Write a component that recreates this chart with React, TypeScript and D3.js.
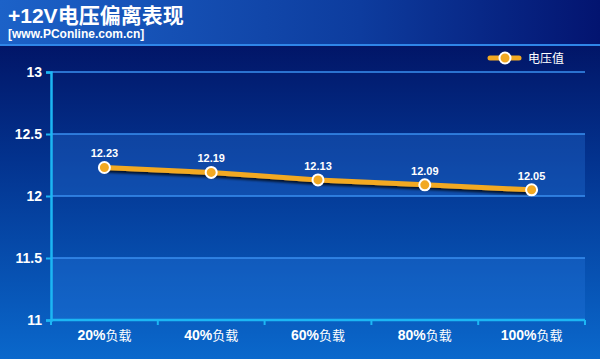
import React, { useEffect, useRef } from 'react';
import * as d3 from 'd3';

const categories = ['20%负载', '40%负载', '60%负载', '80%负载', '100%负载'];
const voltages = [12.23, 12.19, 12.13, 12.09, 12.05];
const yTicks = [11, 11.5, 12, 12.5, 13];
const seriesName = '电压值';
const title = '+12V电压偏离表现';
const subtitle = '[www.PConline.com.cn]';

const App: React.FC = () => {
  const svgRef = useRef<SVGSVGElement | null>(null);

  useEffect(() => {
    if (!svgRef.current) return;
    const width = 600;
    const height = 359;
    const left = 51;
    const right = 585;
    const top = 72;
    const bottom = 320;

    const svg = d3.select(svgRef.current);
    svg.selectAll('*').remove();
    svg.attr('width', width).attr('height', height);

    const defs = svg.append('defs');
    const bg = defs.append('linearGradient').attr('id', 'bg').attr('x1', 0).attr('y1', 0).attr('x2', 0).attr('y2', 1);
    bg.append('stop').attr('offset', '0%').attr('stop-color', '#010a58');
    bg.append('stop').attr('offset', '45%').attr('stop-color', '#03338f');
    bg.append('stop').attr('offset', '100%').attr('stop-color', '#0a68cc');

    const hdr = defs.append('linearGradient').attr('id', 'hdr').attr('x1', 0).attr('y1', 0).attr('x2', 1).attr('y2', 0);
    hdr.append('stop').attr('offset', '0%').attr('stop-color', '#1c62c8');
    hdr.append('stop').attr('offset', '60%').attr('stop-color', '#0d3c9e');
    hdr.append('stop').attr('offset', '100%').attr('stop-color', '#031470');

    const shadow = defs.append('filter').attr('id', 'shadow').attr('x', '-10%').attr('y', '-50%').attr('width', '120%').attr('height', '200%');
    shadow.append('feDropShadow').attr('dx', 1).attr('dy', 2.5).attr('stdDeviation', 1).attr('flood-color', '#000').attr('flood-opacity', 0.75);

    // background
    svg.append('rect').attr('width', width).attr('height', height).attr('fill', 'url(#bg)');
    svg.append('rect').attr('width', width).attr('height', 45).attr('fill', 'url(#hdr)');
    svg.append('rect').attr('y', 44).attr('width', width).attr('height', 2).attr('fill', '#2f86e8');

    svg.append('text').attr('x', 8).attr('y', 23).text(title)
      .attr('fill', '#fff').attr('font-family', 'Arial, "Noto Sans CJK SC", sans-serif')
      .attr('font-weight', 'bold').attr('font-size', 21);
    svg.append('text').attr('x', 8).attr('y', 38).text(subtitle)
      .attr('fill', '#fff').attr('font-family', 'Arial, sans-serif')
      .attr('font-weight', 'bold').attr('font-size', 12);

    const y = d3.scaleLinear().domain([11, 13]).range([bottom, top]);
    const xBand = d3.scaleBand<string>().domain(categories).range([left, right]);
    const x = (c: string) => (xBand(c) as number) + xBand.bandwidth() / 2;

    // alternating bands
    const bands = [[12, 12.5], [11, 11.5]];
    svg.append('g').selectAll('rect').data(bands).enter().append('rect')
      .attr('x', left).attr('width', right - left)
      .attr('y', (d) => y(d[1])).attr('height', (d) => y(d[0]) - y(d[1]))
      .attr('fill', '#2a7ae0').attr('fill-opacity', 0.3);

    // gridlines
    svg.append('g').selectAll('line').data(yTicks.filter((t) => t > 11)).enter().append('line')
      .attr('x1', left).attr('x2', right)
      .attr('y1', (d) => y(d)).attr('y2', (d) => y(d))
      .attr('stroke', '#3a8ff0').attr('stroke-width', 1.5);

    // y axis
    const yAxis = svg.append('g').attr('transform', `translate(${left},0)`)
      .call(d3.axisLeft(y).tickValues(yTicks).tickSize(5).tickPadding(4).tickFormat((d) => String(d)));
    yAxis.select('.domain').attr('stroke', '#1cb6f4').attr('stroke-width', 2.5);
    yAxis.selectAll('.tick line').attr('stroke', '#1cb6f4').attr('stroke-width', 2);
    yAxis.selectAll('.tick text').attr('fill', '#fff').attr('font-family', 'Arial, sans-serif')
      .attr('font-weight', 'bold').attr('font-size', 14);

    // x axis
    const xAxis = svg.append('g').attr('transform', `translate(0,${bottom})`)
      .call(d3.axisBottom(xBand).tickSize(0).tickPadding(10));
    xAxis.select('.domain').remove();
    xAxis.append('line').attr('x1', left).attr('x2', right).attr('stroke', '#1cb6f4').attr('stroke-width', 2.5);
    xAxis.selectAll('line.sep').data([...categories.map((c) => xBand(c) as number), right]).enter()
      .append('line').attr('class', 'sep')
      .attr('x1', (d) => d).attr('x2', (d) => d).attr('y1', 0).attr('y2', 5)
      .attr('stroke', '#1cb6f4').attr('stroke-width', 2);
    const xt = xAxis.selectAll('.tick text').text('').attr('fill', '#fff')
      .attr('font-family', 'Arial, "Noto Sans CJK SC", sans-serif').attr('font-size', 14);
    xt.each(function (d: any) {
      const m = /^(\d+%)(.*)$/.exec(d as string);
      const t = d3.select(this);
      if (!m) { t.text(d); return; }
      t.append('tspan').attr('font-weight', 'bold').text(m[1]);
      t.append('tspan').attr('font-size', 13).text(m[2]);
    });

    // series line
    const line = d3.line<number>().x((_, i) => x(categories[i])).y((d) => y(d));
    svg.append('path').datum(voltages).attr('d', line)
      .attr('fill', 'none').attr('stroke', '#f2a922').attr('stroke-width', 5)
      .attr('filter', 'url(#shadow)');

    svg.append('g').selectAll('circle').data(voltages).enter().append('circle')
      .attr('cx', (_, i) => x(categories[i])).attr('cy', (d) => y(d)).attr('r', 5.5)
      .attr('fill', '#f2a922').attr('stroke', '#fff').attr('stroke-width', 2);

    svg.append('g').selectAll('text').data(voltages).enter().append('text')
      .attr('x', (_, i) => x(categories[i])).attr('y', (d) => y(d) - 10)
      .attr('text-anchor', 'middle').text((d) => d.toFixed(2))
      .attr('fill', '#fff').attr('font-family', 'Arial, sans-serif')
      .attr('font-weight', 'bold').attr('font-size', 11);

    // legend
    const lg = svg.append('g').attr('transform', 'translate(490,58)');
    lg.append('line').attr('x1', 0).attr('x2', 29).attr('stroke', '#f2a922').attr('stroke-width', 5)
      .attr('stroke-linecap', 'round');
    lg.append('circle').attr('cx', 15).attr('r', 5.5).attr('fill', '#f2a922').attr('stroke', '#fff').attr('stroke-width', 2);
    lg.append('text').attr('x', 38).attr('y', 4.5).text(seriesName)
      .attr('fill', '#fff').attr('font-family', '"Noto Sans CJK SC", sans-serif').attr('font-size', 12);
  }, []);

  return <svg ref={svgRef} style={{ position: 'absolute', left: 0, top: 0 }}></svg>;
};

export default App;
